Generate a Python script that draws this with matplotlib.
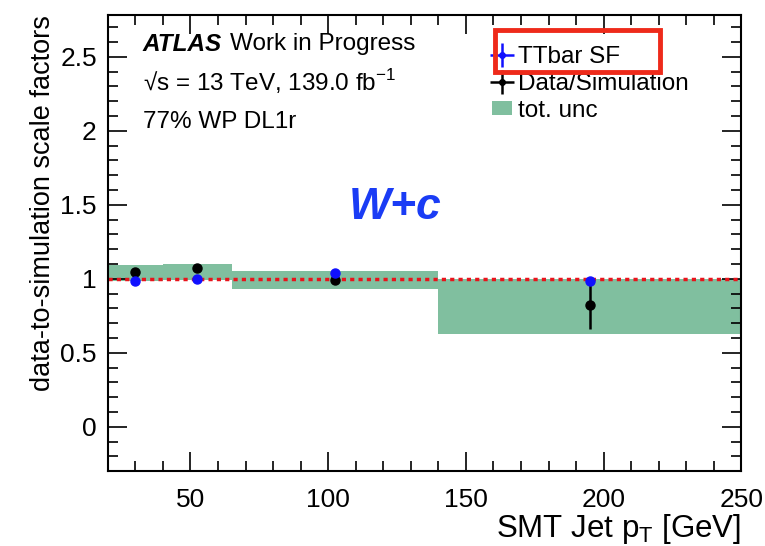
import numpy as np
import matplotlib.pyplot as plt
from matplotlib.patches import Rectangle, Patch
from matplotlib.ticker import MultipleLocator

plt.rcParams['font.family'] = ['Liberation Sans', 'DejaVu Sans']

# pT bins [GeV]
bin_edges = [20, 40, 65, 140, 250]
bin_centers = [30, 52.5, 102.5, 195]

# total uncertainty band (low, high)
band_lo = [0.985, 0.99, 0.93, 0.63]
band_hi = [1.09, 1.10, 1.05, 1.0]

# TTbar SF (blue)
ttbar_sf = [0.983, 1.0, 1.04, 0.982]
ttbar_err = [0.01, 0.01, 0.01, 0.01]

# Data/Simulation (black)
data_sim = [1.043, 1.07, 0.99, 0.82]
data_err = [0.01, 0.01, 0.01, 0.16]

fig = plt.figure(figsize=(7.65, 5.46), dpi=100)
ax = fig.add_axes([0.141, 0.137, 0.828, 0.835])

band_color = '#80bf9f'
for i in range(len(band_lo)):
    ax.fill_between([bin_edges[i], bin_edges[i+1]], band_lo[i], band_hi[i],
                    color=band_color, lw=0, zorder=1)

ax.axhline(1.0, color='#e8141c', ls=(0, (1.2, 1.2)), lw=2.5, zorder=2)

ax.errorbar(bin_centers, data_sim, yerr=data_err, fmt='o', color='black',
            ms=6.5, lw=1.8, capsize=0, zorder=3)
ax.errorbar(bin_centers, ttbar_sf, yerr=ttbar_err, fmt='o', color='#1010ff',
            ms=6.5, lw=1.8, capsize=0, zorder=4)

ax.set_xlim(20, 250)
ax.set_ylim(-0.3, 2.78)
ax.xaxis.set_major_locator(MultipleLocator(50))
ax.xaxis.set_minor_locator(MultipleLocator(10))
ax.yaxis.set_major_locator(MultipleLocator(0.5))
ax.yaxis.set_minor_locator(MultipleLocator(0.1))
ax.yaxis.set_major_formatter(plt.FuncFormatter(lambda v, p: f'{v:g}'))
ax.tick_params(which='both', direction='in', top=True, right=True,
               labelsize=19, width=1.2)
ax.tick_params(which='major', length=14)
ax.tick_params(which='minor', length=7)
ax.tick_params(axis='x', pad=12)
ax.tick_params(axis='y', pad=8)
for s in ax.spines.values():
    s.set_linewidth(1.5)

ax.set_xlabel(r'SMT Jet p$_{\mathregular{T}}$ [GeV]', fontsize=22.5, loc='right',
              labelpad=0)
ax.set_ylabel('data-to-simulation scale factors', fontsize=19.5, loc='top',
              labelpad=3)

# text labels
ax.text(0.055, 0.936, 'ATLAS', transform=ax.transAxes, fontsize=17.5,
        fontweight='bold', fontstyle='italic', va='center')
ax.text(0.193, 0.936, 'Work in Progress', transform=ax.transAxes, fontsize=17.5,
        va='center')
ax.text(0.055, 0.855, '√s = 13 TeV, 139.0 fb$^{\\mathregular{-1}}$',
        transform=ax.transAxes, fontsize=17.5, va='center')
ax.text(0.055, 0.765, '77% WP DL1r', transform=ax.transAxes, fontsize=17.5,
        va='center')
ax.text(0.453, 0.579, 'W+c', transform=ax.transAxes, fontsize=32,
        fontweight='bold', fontstyle='italic', color='#1a3cf5', ha='center',
        va='center')

# legend
h_tt = ax.errorbar([], [], xerr=[], yerr=[], fmt='o', color='#1010ff', ms=4, lw=1.8)
h_ds = ax.errorbar([], [], xerr=[], yerr=[], fmt='o', color='black', ms=4, lw=1.8)
h_unc = Patch(color=band_color, lw=0)
leg = ax.legend([h_tt, h_ds, h_unc], ['TTbar SF', 'Data/Simulation', 'tot. unc'],
                loc='upper left', bbox_to_anchor=(0.607, 0.933), frameon=False,
                fontsize=17.5, handlelength=0.8, handleheight=0.55,
                handletextpad=0.25, labelspacing=0.2, borderpad=0.0,
                borderaxespad=0.0)

# red highlight box around the TTbar SF entry
ax.add_patch(Rectangle((0.611, 0.875), 0.261, 0.092, transform=ax.transAxes,
                       fill=False, edgecolor='#ee2a1a', lw=3.5, zorder=10,
                       clip_on=False))

fig.savefig('out.png', dpi=100)
